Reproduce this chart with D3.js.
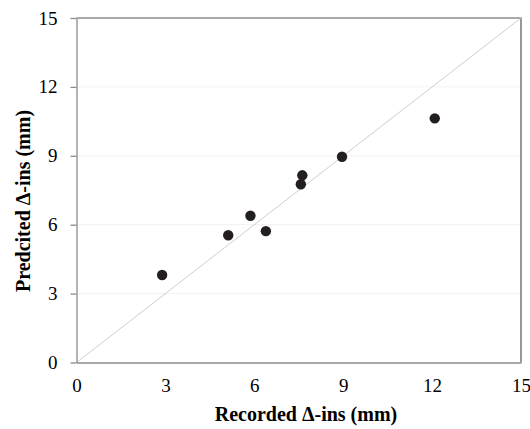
<!DOCTYPE html>
<html>
<head>
<meta charset="utf-8">
<script src="https://cdn.jsdelivr.net/npm/d3@7"></script>
<style>
  html, body { margin: 0; padding: 0; background: #fff; }
  svg { display: block; }
</style>
</head>
<body>
<svg id="chart" width="530" height="429"></svg>
<script>
// Recorded vs predicted Δ-ins values (mm)
const recorded  = [2.89, 5.12, 5.87, 6.39, 7.57, 7.62, 8.96, 12.09];
const predicted = [3.81, 5.54, 6.39, 5.72, 7.76, 8.15, 8.96, 10.63];
const xTicks = [0, 3, 6, 9, 12, 15];
const yTicks = [0, 3, 6, 9, 12, 15];
const lineOfEquality = [[0, 0], [15, 15]];

const svg = d3.select("#chart");
const plotL = 76.5, plotR = 521, plotT = 18, plotB = 362.5;

const x = d3.scaleLinear().domain([0, 15]).range([plotL, plotR]);
const y = d3.scaleLinear().domain([0, 15]).range([plotB, plotT]);

const font = "'Liberation Serif', 'Times New Roman', serif";

// faint horizontal gridlines
svg.append("g").selectAll("line")
  .data(yTicks.filter(d => d > 0 && d < 15))
  .join("line")
  .attr("x1", plotL).attr("x2", plotR)
  .attr("y1", d => y(d)).attr("y2", d => y(d))
  .attr("stroke", "#f2f2f2").attr("stroke-width", 1);

// top and right frame
svg.append("path")
  .attr("d", `M${plotL},${plotT}H${plotR}V${plotB}`)
  .attr("fill", "none").attr("stroke", "#555").attr("stroke-width", 1.2);

// 1:1 line
svg.append("path")
  .datum(lineOfEquality)
  .attr("d", d3.line().x(d => x(d[0])).y(d => y(d[1])))
  .attr("stroke", "#c8c8c8").attr("stroke-width", 0.9).attr("fill", "none");

// y axis
const yAxis = svg.append("g")
  .attr("transform", `translate(${plotL},0)`)
  .call(d3.axisLeft(y).tickValues(yTicks).tickSize(6).tickSizeOuter(0).tickPadding(13));
yAxis.select(".domain").attr("stroke", "#8c8c8c").attr("stroke-width", 1.3);
yAxis.selectAll(".tick line").attr("stroke", "#8c8c8c").attr("stroke-width", 1.3);
yAxis.selectAll("text").attr("font-family", font).attr("font-size", 19).attr("fill", "#000");

// x axis
const xAxis = svg.append("g")
  .attr("transform", `translate(0,${plotB})`)
  .call(d3.axisBottom(x).tickValues(xTicks).tickSize(0).tickSizeOuter(0).tickPadding(16));
xAxis.select(".domain").attr("stroke", "#8c8c8c").attr("stroke-width", 1.3);
xAxis.selectAll("text").attr("font-family", font).attr("font-size", 19).attr("fill", "#000");

// data points
svg.append("g").selectAll("circle")
  .data(recorded.map((r, i) => [r, predicted[i]]))
  .join("circle")
  .attr("cx", d => x(d[0])).attr("cy", d => y(d[1]))
  .attr("r", 5.2).attr("fill", "#231f20");

// axis titles
svg.append("text")
  .attr("x", 306).attr("y", 421)
  .attr("text-anchor", "middle")
  .attr("font-family", font).attr("font-size", 20).attr("font-weight", "bold")
  .text("Recorded Δ-ins (mm)");

svg.append("text")
  .attr("transform", `translate(30,201) rotate(-90)`)
  .attr("text-anchor", "middle")
  .attr("font-family", font).attr("font-size", 20).attr("font-weight", "bold")
  .text("Predcited Δ-ins (mm)");
</script>
</body>
</html>
